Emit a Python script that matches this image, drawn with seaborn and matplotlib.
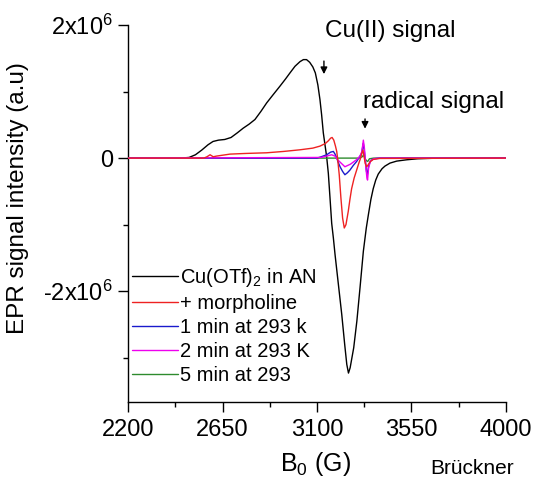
import numpy as np
import pandas as pd
import matplotlib
matplotlib.use("Agg")
import matplotlib.pyplot as plt
import seaborn as sns
from matplotlib.ticker import FixedLocator, FixedFormatter

# ---- data (B0 in G, intensity in units of 1e6) ----
black_x = [2200, 2450, 2490, 2520, 2550, 2580, 2604, 2630, 2660, 2690, 2720, 2748, 2776, 2804,
           2832, 2860, 2890, 2923, 2950, 2971, 2995, 3019, 3035, 3050, 3065, 3080, 3092, 3104,
           3114, 3122, 3130, 3138, 3146, 3154, 3162, 3170, 3178, 3186, 3202, 3218, 3232, 3242,
           3250, 3258, 3275, 3290, 3305, 3321, 3335, 3345, 3357, 3368, 3380, 3392, 3410, 3424,
           3448, 3480, 3528, 3580, 3650, 4000]
black_y = [0, 0, 0.01, 0.05, 0.12, 0.20, 0.25, 0.27, 0.28, 0.31, 0.38, 0.45, 0.51, 0.58,
           0.70, 0.83, 0.95, 1.08, 1.19, 1.28, 1.38, 1.45, 1.48, 1.48, 1.44, 1.37, 1.28, 1.10,
           0.88, 0.65, 0.38, 0.20, 0.02, -0.23, -0.60, -0.98, -1.20, -1.45, -1.90, -2.35, -2.80, -3.10,
           -3.23, -3.15, -2.85, -2.45, -1.95, -1.40, -1.05, -0.85, -0.62, -0.46, -0.33, -0.24, -0.16, -0.12,
           -0.075, -0.045, -0.025, -0.01, -0.003, 0]

red_x = [2200, 2560, 2575, 2590, 2605, 2620, 2685, 2760, 2860, 2940, 3019, 3080, 3114, 3140,
         3154, 3165, 3172, 3180, 3188, 3194, 3198, 3206, 3214, 3222, 3230, 3238, 3249, 3257,
         3265, 3277, 3289, 3300, 3308, 3314, 3319, 3324, 3330, 3337, 3344, 3352, 3368, 3400, 4000]
red_y = [0, 0, 0.02, 0.05, 0.02, 0.03, 0.06, 0.07, 0.08, 0.10, 0.125, 0.15, 0.18, 0.22,
         0.26, 0.30, 0.31, 0.27, 0.18, 0.10, 0.0, -0.25, -0.60, -0.90, -1.05, -1.00, -0.80, -0.62,
         -0.46, -0.30, -0.18, -0.07, 0.0, 0.08, 0.12, 0.03, -0.08, -0.13, -0.10, -0.06, -0.02, -0.005, 0]

blue_x = [2200, 3100, 3120, 3146, 3165, 3178, 3186, 3194, 3202, 3210, 3222, 3233, 3245, 3257,
          3273, 3289, 3303, 3313, 3318, 3321, 3326, 3331, 3336, 3340, 3346, 3355, 3370, 3400, 4000]
blue_y = [0, 0, 0.02, 0.05, 0.09, 0.10, 0.06, 0.0, -0.07, -0.13, -0.20, -0.25, -0.22, -0.18,
          -0.11, -0.05, 0.02, 0.075, 0.17, 0.22, 0.10, -0.05, -0.20, -0.25, -0.12, -0.04, -0.01, 0, 0]

mag_x = [2200, 3120, 3170, 3186, 3200, 3233, 3260, 3290, 3305, 3314, 3321, 3326, 3332, 3338,
         3341, 3346, 3355, 3370, 3400, 4000]
mag_y = [0, 0.01, 0.05, 0.03, -0.03, -0.13, -0.09, -0.02, 0.03, 0.10, 0.27, 0.15, -0.10, -0.30,
         -0.33, -0.15, -0.04, -0.01, 0, 0]

green_x = [2200, 3300, 3316, 3322, 3328, 3336, 3342, 3350, 3370, 4000]
green_y = [0, 0, 0.02, 0.05, 0.0, -0.04, -0.05, -0.01, 0, 0]

labels = ["Cu(OTf)$_2$ in AN", "+ morpholine", "1 min at 293 k", "2 min at 293 K", "5 min at 293"]
colors = ["#000000", "#ee2222", "#1a1acc", "#ee00ee", "#2e8b2e"]

x_major = [2200, 2650, 3100, 3550, 4000]
x_minor = [2425, 2875, 3325, 3775]
y_major = [2e6, 0, -2e6]
y_major_labels = ["2x10$^6$", "0", "-2x10$^6$"]
y_minor = [1e6, -1e6, -3e6]

# ---- style ----
sns.set_style("ticks")
plt.rcParams["font.family"] = ["Liberation Sans", "DejaVu Sans"]
plt.rcParams["mathtext.fontset"] = "custom"
plt.rcParams["mathtext.rm"] = "Liberation Sans"
plt.rcParams["mathtext.it"] = "Liberation Sans:italic"
plt.rcParams["mathtext.default"] = "regular"
for k in ["text.color", "axes.labelcolor", "xtick.color", "ytick.color", "axes.edgecolor"]:
    plt.rcParams[k] = "black"

fig = plt.figure(figsize=(5.38, 4.79), dpi=100)
ax = fig.add_axes([0.2385, 0.1614, 0.7015, 0.7864])

series = [(black_x, black_y), (red_x, red_y), (blue_x, blue_y), (mag_x, mag_y), (green_x, green_y)]
zorders = [2, 6, 4, 5, 3]
for (xs, ys), lab, col, zo in zip(series, labels, colors, zorders):
    df = pd.DataFrame({"B": xs, "I": np.array(ys) * 1e6})
    sns.lineplot(data=df, x="B", y="I", ax=ax, color=col, lw=1.0, label=lab,
                 estimator=None, sort=False, zorder=zo)

ax.set_xlim(2200, 4000)
ax.set_ylim(-3.66e6, 2e6)
sns.despine(ax=ax)
for s in ["left", "bottom"]:
    ax.spines[s].set_linewidth(1.0)
    ax.spines[s].set_color("black")

ax.xaxis.set_major_locator(FixedLocator(x_major))
ax.xaxis.set_minor_locator(FixedLocator(x_minor))
ax.yaxis.set_major_locator(FixedLocator(y_major))
ax.yaxis.set_major_formatter(FixedFormatter(y_major_labels))
ax.yaxis.set_minor_locator(FixedLocator(y_minor))
ax.tick_params(which="major", length=7.2, width=1.0, labelsize=17, color="black",
               labelcolor="black", pad=4)
ax.tick_params(which="minor", length=3.6, width=1.0, color="black")
ax.tick_params(axis="x", which="major", pad=5)

ax.set_ylabel("EPR signal intensity (a.u)", fontsize=17.5, color="black")
ax.yaxis.set_label_coords(-0.262, 0.541)
ax.set_xlabel("B$_0$ (G)", fontsize=18, color="black")
ax.xaxis.set_label_coords(0.497, -0.128)

# annotations
ax.text(3138, 1.82e6, "Cu(II) signal", fontsize=17.5, ha="left", va="baseline", clip_on=False)
ax.annotate("", xy=(3133, 1.22e6), xytext=(3133, 1.50e6),
            arrowprops=dict(arrowstyle="-|>", color="black", lw=1.0, mutation_scale=10))
ax.text(3318, 0.76e6, "radical signal", fontsize=17.5, ha="left", va="baseline", clip_on=False)
ax.annotate("", xy=(3329, 0.40e6), xytext=(3329, 0.63e6),
            arrowprops=dict(arrowstyle="-|>", color="black", lw=1.0, mutation_scale=10))

leg = ax.legend(loc="upper left", bbox_to_anchor=(0.0, 0.37), frameon=False, fontsize=14.5,
                handlelength=2.25, handletextpad=0.1, labelspacing=0.24, borderaxespad=0.0,
                borderpad=0.2)

fig.text(430 / 538, 4.5 / 479, "Brückner", fontsize=15, ha="left", va="baseline")

fig.savefig("out.png", dpi=100)
